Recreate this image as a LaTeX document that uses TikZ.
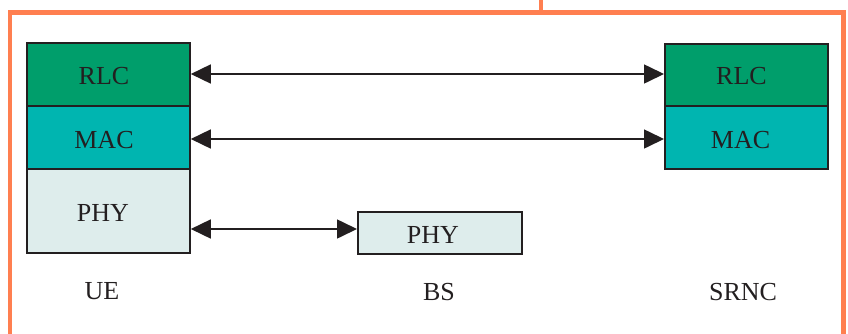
\documentclass[tikz,border=0pt]{standalone}
\usepackage{fontspec}
\setmainfont{Liberation Serif}
\usetikzlibrary{arrows.meta}
\definecolor{rlcc}{RGB}{0,158,107}
\definecolor{macc}{RGB}{0,181,176}
\definecolor{phyc}{RGB}{222,237,236}
\definecolor{framec}{RGB}{255,127,80}
\definecolor{edgec}{RGB}{35,31,32}
\begin{document}
\begin{tikzpicture}[x=1pt,y=-1pt,
  layer/.style={draw=edgec,line width=1.8pt,minimum height=#1,inner sep=0pt,anchor=north west},
  lbl/.style={font=\fontsize{26}{26}\selectfont,text=edgec,inner sep=0pt},
  frame/.style={draw=framec,line width=4.5pt},
  conn/.style={line width=1.6pt,draw=edgec,{Triangle[length=20pt,width=19pt]}-{Triangle[length=20pt,width=19pt]}}]
\useasboundingbox (0,0) rectangle (848,333);
% frame
\coordinate (ftl) at (10,12.5);
\coordinate (ftr) at (843.5,12.5);
\coordinate (fbl) at (10,340);
\coordinate (fbr) at (843.5,340);
\coordinate (stubtop) at (541,-5);
\coordinate (stubbot) at (541,12.5);
\draw[frame] (fbl) -- (ftl) -- (ftr) -- (fbr);
\draw[frame] (stubtop) -- (stubbot);
% UE stack
\node[layer=63pt,minimum width=163pt,fill=rlcc] (uerlc) at (26,42) {};
\node[layer=63pt,minimum width=163pt,fill=macc] (uemac) at (26,105) {};
\node[layer=84pt,minimum width=163pt,fill=phyc] (uephy) at (26,168) {};
\node[lbl] (uerlct) at (104,76) {RLC};
\node[lbl] (uemact) at (104,140) {MAC};
\node[lbl] (uephyt) at (103,212.5) {PHY};
% SRNC stack
\node[layer=62pt,minimum width=163pt,fill=rlcc] (srrlc) at (664,43) {};
\node[layer=63pt,minimum width=163pt,fill=macc] (srmac) at (664,105) {};
\node[lbl] (srrlct) at (741.5,76) {RLC};
\node[lbl] (srmact) at (740.5,140) {MAC};
% BS
\node[layer=42pt,minimum width=164pt,fill=phyc] (bsphy) at (357,211) {};
\node[lbl] (bsphyt) at (433,234.5) {PHY};
% labels
\node[lbl] (ue) at (102,291) {UE};
\node[lbl] (bs) at (439,292) {BS};
\node[lbl] (srnc) at (743,292) {SRNC};
% connectors
\coordinate (y1) at (0,74);
\coordinate (y2) at (0,139);
\coordinate (y3) at (0,229);
\draw[conn] (uerlc.east |- y1) -- (srrlc.west |- y1);
\draw[conn] (uemac.east |- y2) -- (srmac.west |- y2);
\draw[conn] (uephy.east |- y3) -- (bsphy.west |- y3);
\end{tikzpicture}
\end{document}
